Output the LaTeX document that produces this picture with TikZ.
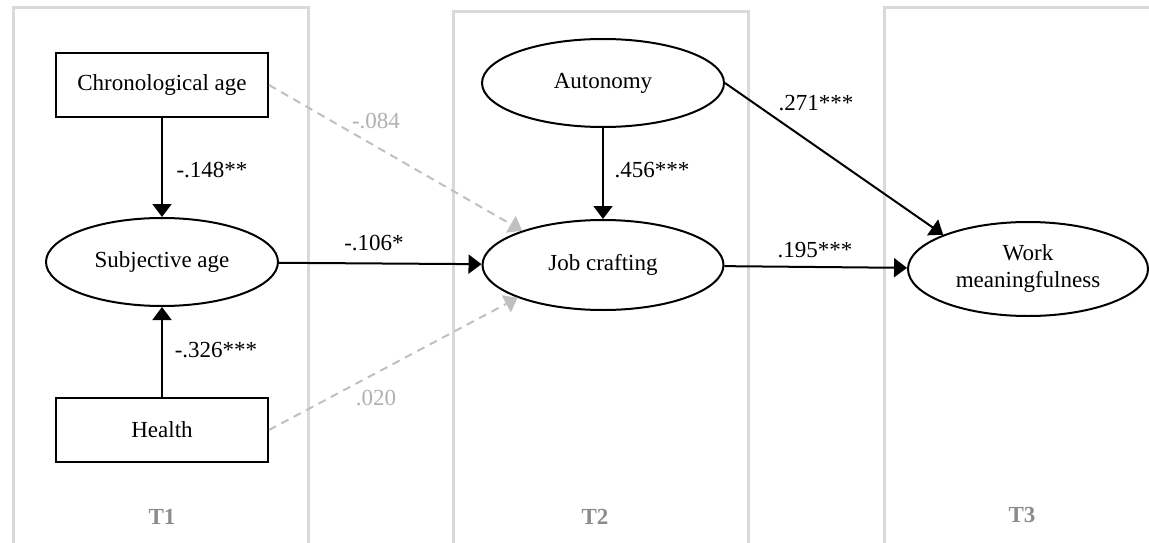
\documentclass[tikz,border=0pt]{standalone}
\usepackage{fontspec}
\setmainfont{Liberation Serif}
\usetikzlibrary{shapes.geometric,arrows.meta}
\definecolor{panelgray}{HTML}{D9D9D9}
\definecolor{dashgray}{HTML}{C0C0C0}
\definecolor{labgray}{HTML}{B0B0B0}
\definecolor{tgray}{HTML}{8C8C8C}
\begin{document}
\begin{tikzpicture}[x=1pt,y=-1pt,
  every node/.style={font=\fontsize{23}{27}\selectfont},
  box/.style={draw,fill=white,line width=2pt,minimum width=212pt,minimum height=64pt,inner sep=0pt},
  oval/.style={draw,fill=white,ellipse,line width=2pt,inner sep=0pt,align=center},
  panel/.style={draw=panelgray,line width=3pt,line join=miter},
  arr/.style={line width=2pt,-{Triangle[length=13pt,width=19pt]}},
  ns/.style={draw=dashgray,line width=2pt,dash pattern=on 8pt off 6pt,-{Triangle[length=13pt,width=19pt,fill=dashgray]}},
  coef/.style={inner sep=1pt},
  ncoef/.style={inner sep=1pt,text=labgray},
  tlab/.style={text=tgray,font=\fontsize{23}{27}\selectfont\bfseries}
]
\useasboundingbox (0,0) rectangle (1149,543);
% panels
\draw[panel] (13,550) -- (13,8) -- (308,8) -- (308,550);
\draw[panel] (453,550) -- (453,12) -- (748,12) -- (748,550);
\draw[panel] (884,550) -- (884,8) -- (1160,8);
% nodes
\node[box] (ca) at (162,85) {Chronological age};
\node[oval,minimum width=232pt,minimum height=88pt] (sa) at (162,262) {Subjective age};
\node[box] (he) at (162,430) {Health};
\node[oval,minimum width=242pt,minimum height=88pt] (au) at (603,83) {Autonomy};
\node[oval,minimum width=241pt,minimum height=90pt] (jc) at (603,265) {Job crafting};
\node[oval,minimum width=240pt,minimum height=94pt] (wm) at (1028,269) {Work\\meaningfulness};
% paths
\draw[arr] (ca) -- (sa);
\draw[arr] (he) -- (sa);
\draw[arr] (sa) -- (jc);
\draw[arr] (au) -- (jc);
\draw[arr] (jc) -- (wm);
\draw[arr] (au.east) -- (wm.158);
\draw[ns] (ca.east) -- (jc.157);
\draw[ns] (he.east) -- (jc.201);
% coefficients
\node[coef] (l1) at (212,170) {-.148**};
\node[coef] (l2) at (216,350) {-.326***};
\node[coef] (l3) at (374,243) {-.106*};
\node[coef] (l4) at (652,170) {.456***};
\node[coef] (l5) at (816,103) {.271***};
\node[coef] (l6) at (815,250) {.195***};
\node[ncoef] (l7) at (376,121) {-.084};
\node[ncoef] (l8) at (376,398) {.020};
% time labels
\node[tlab] (t1) at (162,517) {T1};
\node[tlab] (t2) at (595,517) {T2};
\node[tlab] (t3) at (1022,515) {T3};
\end{tikzpicture}
\end{document}
